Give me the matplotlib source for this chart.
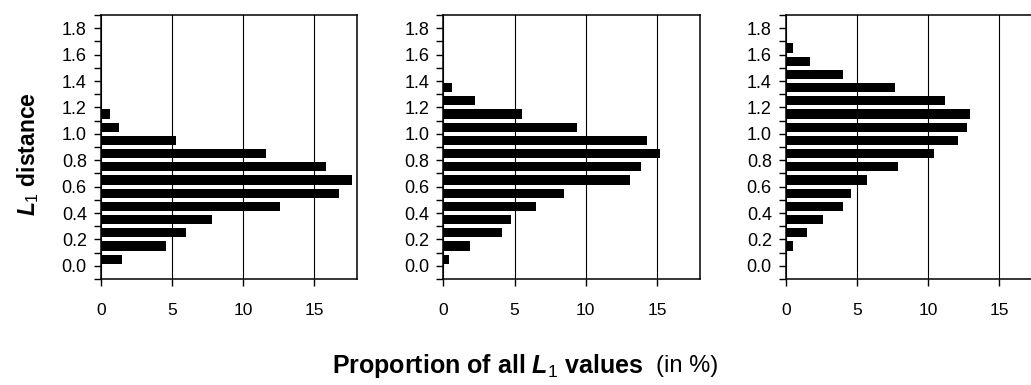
import numpy as np
import matplotlib.pyplot as plt

plt.rcParams['font.family'] = ['Liberation Sans', 'DejaVu Sans']
plt.rcParams['mathtext.fontset'] = 'custom'
plt.rcParams['mathtext.rm'] = 'Liberation Sans'
plt.rcParams['mathtext.it'] = 'Liberation Sans:italic:bold'
plt.rcParams['mathtext.bf'] = 'Liberation Sans:bold'

# bin centres of the L1 distance histograms (bin width 0.1)
centres_a = np.arange(12) * 0.1 + 0.05
centres_b = np.arange(14) * 0.1 + 0.05
centres_c = np.arange(16) * 0.1 + 0.15

# percentage of all L1 values per bin
pct_a = [1.5, 4.6, 6.0, 7.8, 12.6, 16.7, 17.6, 15.8, 11.6, 5.3, 1.3, 0.65]
pct_b = [0.4, 1.85, 4.1, 4.75, 6.5, 8.5, 13.1, 13.9, 15.2, 14.3, 9.4, 5.5, 2.2, 0.6]
pct_c = [0.5, 1.5, 2.6, 4.05, 4.6, 5.7, 7.85, 10.4, 12.1, 12.75, 12.95, 11.2,
         7.7, 4.05, 1.7, 0.5]

ytick_vals = np.round(np.arange(-0.1, 1.95, 0.1), 1)
ytick_labels = ['' if round(v * 10) % 2 else f'{v:.1f}' for v in ytick_vals]
xtick_vals = [0, 5, 10, 15]

W, H = 1031, 385
fig = plt.figure(figsize=(W / 100, H / 100), dpi=100)

lefts = [100.7, 443.3, 785.7]
panel_w = 256.5
top, bottom = 15, 279

for left, y, x in zip(lefts, [centres_a, centres_b, centres_c], [pct_a, pct_b, pct_c]):
    ax = fig.add_axes([left / W, (H - bottom) / H, panel_w / W, (bottom - top) / H])
    ax.barh(y, x, height=0.07, color='black', zorder=3)
    ax.set_xlim(0, 18)
    ax.set_ylim(-0.1, 1.9)
    ax.set_yticks(ytick_vals)
    ax.set_yticklabels(ytick_labels)
    ax.set_xticks(xtick_vals)
    ax.tick_params(axis='y', direction='out', length=5, width=1, pad=5, labelsize=13)
    ax.tick_params(axis='x', direction='out', length=5, width=1, pad=12, labelsize=12.5)
    ax.grid(axis='x', color='black', linewidth=0.8, zorder=1)
    for s in ax.spines.values():
        s.set_linewidth(1.1)

fig.text(28 / W, 1 - 154 / H, r'$\it{L}_{\rm 1}$ distance', rotation=90,
         ha='center', va='center', fontsize=16.5, fontweight='bold')
fig.text(643 / W, 1 - 366 / H, r'Proportion of all $\it{L}_{\rm 1}$ values',
         ha='right', va='center', fontsize=18, fontweight='bold')
fig.text(656 / W, 1 - 366 / H, '(in %)', ha='left', va='center', fontsize=17)

fig.savefig('out.png', dpi=100)
